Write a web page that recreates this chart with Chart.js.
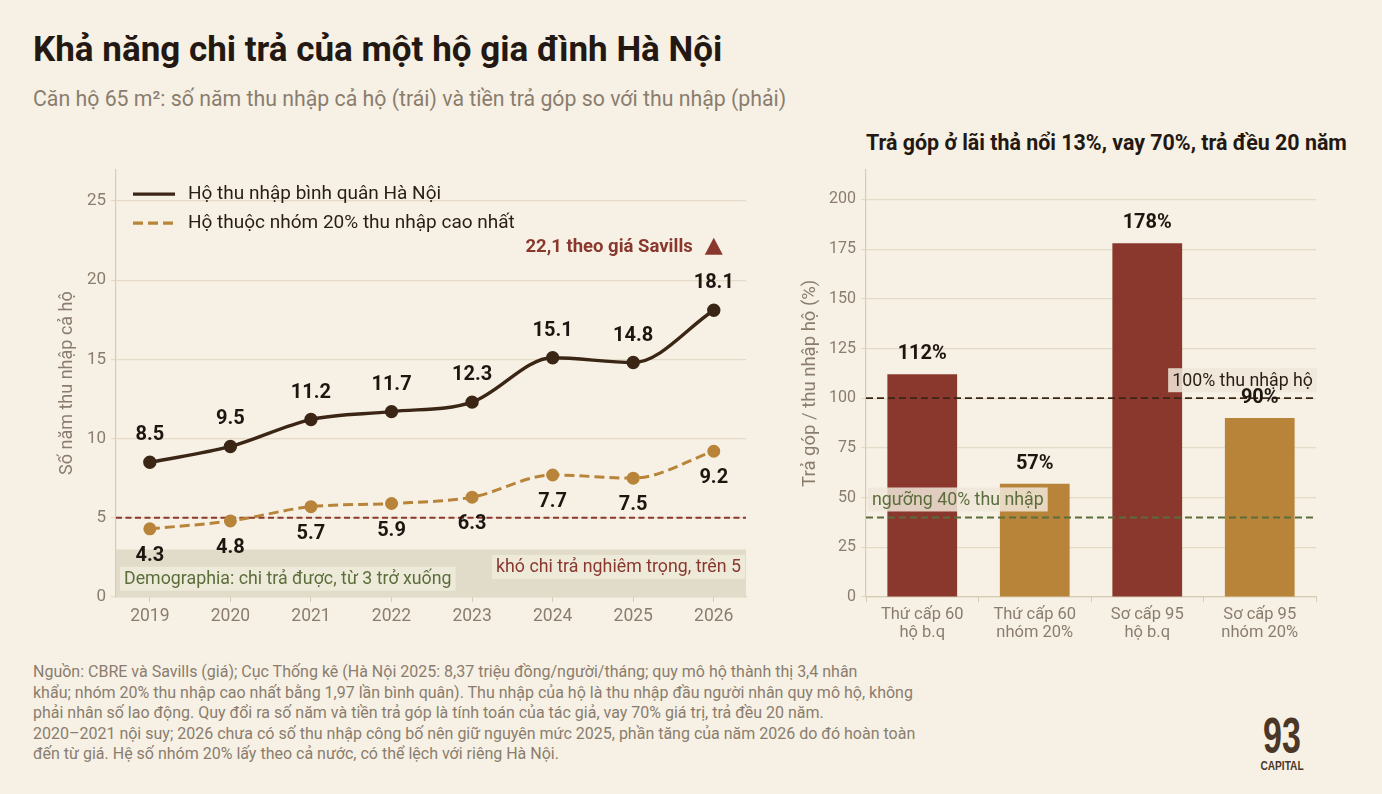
<!DOCTYPE html>
<html lang="vi">
<head>
<meta charset="utf-8">
<script src="https://cdn.jsdelivr.net/npm/chart.js@4.4.1/dist/chart.umd.min.js"></script>
<style>
  html, body { margin: 0; padding: 0; }
  body { width: 1382px; height: 794px; background: #f7f1e5; font-family: Roboto, sans-serif; position: relative; overflow: hidden; }
  .abs { position: absolute; }
  #title { left: 33px; top: 30px; font-size: 35px; line-height: 40px; font-weight: 700; color: #231812; white-space: nowrap; }
  #subtitle { left: 33px; top: 86px; font-size: 21.3px; line-height: 26px; color: #8a7d6e; white-space: nowrap; }
  #rtitle { left: 866px; top: 130px; font-size: 21.4px; line-height: 26px; font-weight: 700; color: #231812; white-space: nowrap; }
  #footer { left: 33px; top: 662px; font-size: 16px; line-height: 20.5px; color: #8a7d6e; white-space: nowrap; }
  #leftBox { left: 40px; top: 154px; width: 720px; height: 488px; }
  #rightBox { left: 780px; top: 155px; width: 590px; height: 497px; }
  #logo { left: 1252px; top: 713px; width: 60px; text-align: center; color: #4a3728; font-family: "Liberation Sans", "DejaVu Sans", sans-serif; font-weight: 700; }
  #logo .n { font-size: 50px; line-height: 46px; transform: scaleX(0.68); }
  #logo .c { font-size: 13px; line-height: 14px; transform: scaleX(0.78); }
</style>
</head>
<body>
<div id="title" class="abs">Khả năng chi trả của một hộ gia đình Hà Nội</div>
<div id="subtitle" class="abs">Căn hộ 65 m²: số năm thu nhập cả hộ (trái) và tiền trả góp so với thu nhập (phải)</div>
<div id="rtitle" class="abs">Trả góp ở lãi thả nổi 13%, vay 70%, trả đều 20 năm</div>
<div id="leftBox" class="abs"><canvas id="leftChart"></canvas></div>
<div id="rightBox" class="abs"><canvas id="rightChart"></canvas></div>
<div id="footer" class="abs">Nguồn: CBRE và Savills (giá); Cục Thống kê (Hà Nội 2025: 8,37 triệu đồng/người/tháng; quy mô hộ thành thị 3,4 nhân<br>khẩu; nhóm 20% thu nhập cao nhất bằng 1,97 lần bình quân). Thu nhập của hộ là thu nhập đầu người nhân quy mô hộ, không<br>phải nhân số lao động. Quy đổi ra số năm và tiền trả góp là tính toán của tác giả, vay 70% giá trị, trả đều 20 năm.<br>2020–2021 nội suy; 2026 chưa có số thu nhập công bố nên giữ nguyên mức 2025, phần tăng của năm 2026 do đó hoàn toàn<br>đến từ giá. Hệ số nhóm 20% lấy theo cả nước, có thể lệch với riêng Hà Nội.</div>
<div id="logo" class="abs"><div class="n">93</div><div class="c">CAPITAL</div></div>

<script>
// ---- data ----
const years = [2019, 2020, 2021, 2022, 2023, 2024, 2025, 2026];
const meanYears = [8.5, 9.5, 11.2, 11.7, 12.3, 15.1, 14.8, 18.1];
const top20Years = [4.3, 4.8, 5.7, 5.9, 6.3, 7.7, 7.5, 9.2];
const savillsYear = 2026;
const savillsValue = 22.1;
const affordableMax = 3;
const severeMin = 5;

const barLabels = [['Thứ cấp 60', 'hộ b.q'], ['Thứ cấp 60', 'nhóm 20%'], ['Sơ cấp 95', 'hộ b.q'], ['Sơ cấp 95', 'nhóm 20%']];
const barValues = [112, 57, 178, 90];
const incomeLine = 100;
const thresholdLine = 40;

// ---- colours ----
const DARK = '#3b2616';
const GOLD = '#b8843a';
const RED = '#8a382d';
const GREEN = '#5b6d3b';
const GRID = '#e4dac7';
const AXIS = '#d8cbb3';
const TICK = '#8a7d6e';
const INK = '#1f1510';

Chart.defaults.font.family = 'Roboto';
Chart.defaults.color = TICK;

function boxText(ctx, text, x, y, align, color, font, bg) {
  ctx.font = font;
  const w = ctx.measureText(text).width;
  const h = 24;
  const left = align === 'right' ? x - w : x;
  ctx.fillStyle = bg;
  ctx.fillRect(left - 4, y - h / 2, w + 8, h);
  ctx.fillStyle = color;
  ctx.textAlign = 'left';
  ctx.textBaseline = 'middle';
  ctx.fillText(text, left, y + 1);
}

function hLine(ctx, a, py, color, width, dash) {
  ctx.save();
  ctx.strokeStyle = color;
  ctx.lineWidth = width;
  ctx.setLineDash(dash);
  ctx.beginPath();
  ctx.moveTo(a.left, py);
  ctx.lineTo(a.right, py);
  ctx.stroke();
  ctx.restore();
}

const leftDecor = {
  id: 'leftDecor',
  beforeDatasetsDraw(chart) {
    const { ctx, chartArea: a, scales: { y } } = chart;
    ctx.save();
    ctx.fillStyle = '#e1dcca';
    const t = y.getPixelForValue(affordableMax), b = y.getPixelForValue(0);
    ctx.fillRect(a.left, t, a.right - a.left, b - t);
    ctx.restore();
    hLine(ctx, a, y.getPixelForValue(severeMin), RED, 2, [6, 3.5]);
  },
  afterDatasetsDraw(chart) {
    const { ctx, chartArea: a, scales: { x, y } } = chart;
    ctx.save();
    // zone labels
    boxText(ctx, 'Demographia: chi trả được, từ 3 trở xuống', a.left + 8, y.getPixelForValue(1.15), 'left', GREEN, '17.8px Roboto', 'rgba(240,235,220,0.9)');
    boxText(ctx, 'khó chi trả nghiêm trọng, trên 5', a.right - 5, y.getPixelForValue(1.9), 'right', RED, '17.8px Roboto', 'rgba(240,235,220,0.9)');

    // value labels
    ctx.font = 'bold 20px Roboto';
    ctx.fillStyle = INK;
    ctx.textAlign = 'center';
    ctx.textBaseline = 'middle';
    chart.getDatasetMeta(0).data.forEach((p, i) => ctx.fillText(meanYears[i].toFixed(1), p.x, p.y - 27));
    chart.getDatasetMeta(1).data.forEach((p, i) => ctx.fillText(top20Years[i].toFixed(1), p.x, p.y + 27));

    // Savills marker
    const sx = x.getPixelForValue(savillsYear), sy = y.getPixelForValue(savillsValue);
    ctx.fillStyle = RED;
    ctx.beginPath();
    ctx.moveTo(sx, sy - 9);
    ctx.lineTo(sx + 9, sy + 8);
    ctx.lineTo(sx - 9, sy + 8);
    ctx.closePath();
    ctx.fill();
    ctx.font = 'bold 18.5px Roboto';
    ctx.textAlign = 'right';
    ctx.fillText('22,1 theo giá Savills', sx - 21, sy + 1);

    // legend
    const lx = a.left + 17;
    chart.data.datasets.forEach((ds, i) => {
      const ly = a.top + 25 + i * 29;
      ctx.save();
      ctx.strokeStyle = ds.borderColor;
      ctx.lineWidth = 3.2;
      ctx.setLineDash(ds.borderDash || []);
      ctx.beginPath();
      ctx.moveTo(lx, ly);
      ctx.lineTo(lx + 42, ly);
      ctx.stroke();
      ctx.restore();
      ctx.font = '19px Roboto';
      ctx.fillStyle = '#2a1d14';
      ctx.textAlign = 'left';
      ctx.textBaseline = 'middle';
      ctx.fillText(ds.label, lx + 55, ly);
    });
    ctx.restore();
  }
};

new Chart(document.getElementById('leftChart'), {
  type: 'line',
  data: {
    datasets: [{
      label: 'Hộ thu nhập bình quân Hà Nội',
      data: years.map((yr, i) => ({ x: yr, y: meanYears[i] })),
      borderColor: DARK,
      backgroundColor: DARK,
      borderWidth: 3.4,
      pointRadius: 5,
      cubicInterpolationMode: 'monotone'
    }, {
      label: 'Hộ thuộc nhóm 20% thu nhập cao nhất',
      data: years.map((yr, i) => ({ x: yr, y: top20Years[i] })),
      borderColor: GOLD,
      backgroundColor: GOLD,
      borderWidth: 3,
      borderDash: [10, 5],
      pointRadius: 5,
      cubicInterpolationMode: 'monotone'
    }]
  },
  options: {
    responsive: true,
    maintainAspectRatio: false,
    animation: false,
    layout: { padding: { left: 15, right: 14, top: 0, bottom: 0 } },
    plugins: { legend: { display: false }, tooltip: { enabled: false } },
    scales: {
      x: {
        type: 'linear',
        min: 2018.58,
        max: 2026.4,
        afterBuildTicks: s => { s.ticks = years.map(v => ({ value: v })); },
        afterFit: s => { s.height = 45; },
        ticks: { callback: v => String(v), font: { size: 17.5 }, color: TICK, padding: 4 },
        grid: { drawOnChartArea: false, tickLength: 5, color: AXIS },
        border: { color: AXIS, width: 1.2 }
      },
      y: {
        min: 0,
        max: 27,
        afterBuildTicks: s => { s.ticks = s.ticks.filter(t => t.value % 5 === 0); },
        afterFit: s => { s.width = 61; },
        ticks: { stepSize: 5, font: { size: 17 }, color: TICK, padding: 5 },
        grid: { color: GRID, tickLength: 5, lineWidth: 1.2 },
        border: { color: AXIS, width: 1.2 },
        title: { display: true, text: 'Số năm thu nhập cả hộ', font: { size: 18 }, color: TICK, padding: 2 }
      }
    }
  },
  plugins: [leftDecor]
});

const rightDecor = {
  id: 'rightDecor',
  afterDatasetsDraw(chart) {
    const { ctx, chartArea: a, scales: { y } } = chart;
    hLine(ctx, a, y.getPixelForValue(incomeLine), DARK, 1.8, [7, 4]);
    hLine(ctx, a, y.getPixelForValue(thresholdLine), GREEN, 1.8, [7, 4]);
    ctx.save();
    boxText(ctx, '100% thu nhập hộ', a.right - 3, y.getPixelForValue(incomeLine) - 18, 'right', '#2a1d14', '17.8px Roboto', 'rgba(240,230,218,0.85)');
    boxText(ctx, 'ngưỡng 40% thu nhập', a.left + 6, y.getPixelForValue(thresholdLine) - 18, 'left', GREEN, '17.8px Roboto', 'rgba(240,230,218,0.85)');
    ctx.font = 'bold 20px Roboto';
    ctx.fillStyle = INK;
    ctx.textAlign = 'center';
    ctx.textBaseline = 'middle';
    chart.getDatasetMeta(0).data.forEach((b, i) => ctx.fillText(barValues[i] + '%', b.x, b.y - 20));
    ctx.restore();
  }
};

new Chart(document.getElementById('rightChart'), {
  type: 'bar',
  data: {
    labels: barLabels,
    datasets: [{
      data: barValues,
      backgroundColor: [RED, GOLD, RED, GOLD],
      barPercentage: 0.62,
      categoryPercentage: 1
    }]
  },
  options: {
    responsive: true,
    maintainAspectRatio: false,
    animation: false,
    layout: { padding: { left: 17, right: 54, top: 0, bottom: 0 } },
    plugins: { legend: { display: false }, tooltip: { enabled: false } },
    scales: {
      x: {
        afterFit: s => { s.height = 55; },
        ticks: { font: { size: 16.5, lineHeight: 1.1 }, color: TICK, padding: 4 },
        grid: { drawOnChartArea: false, tickLength: 5, color: AXIS },
        border: { color: AXIS, width: 1.2 }
      },
      y: {
        min: 0,
        max: 215,
        afterBuildTicks: s => { s.ticks = s.ticks.filter(t => t.value % 25 === 0); },
        afterFit: s => { s.width = 69; },
        ticks: { stepSize: 25, font: { size: 16 }, color: TICK, padding: 5 },
        grid: { color: GRID, tickLength: 5, lineWidth: 1.2 },
        border: { color: AXIS, width: 1.2 },
        title: { display: true, text: 'Trả góp / thu nhập hộ (%)', font: { size: 18.5 }, color: TICK, padding: 2 }
      }
    }
  },
  plugins: [rightDecor]
});
</script>
</body>
</html>
